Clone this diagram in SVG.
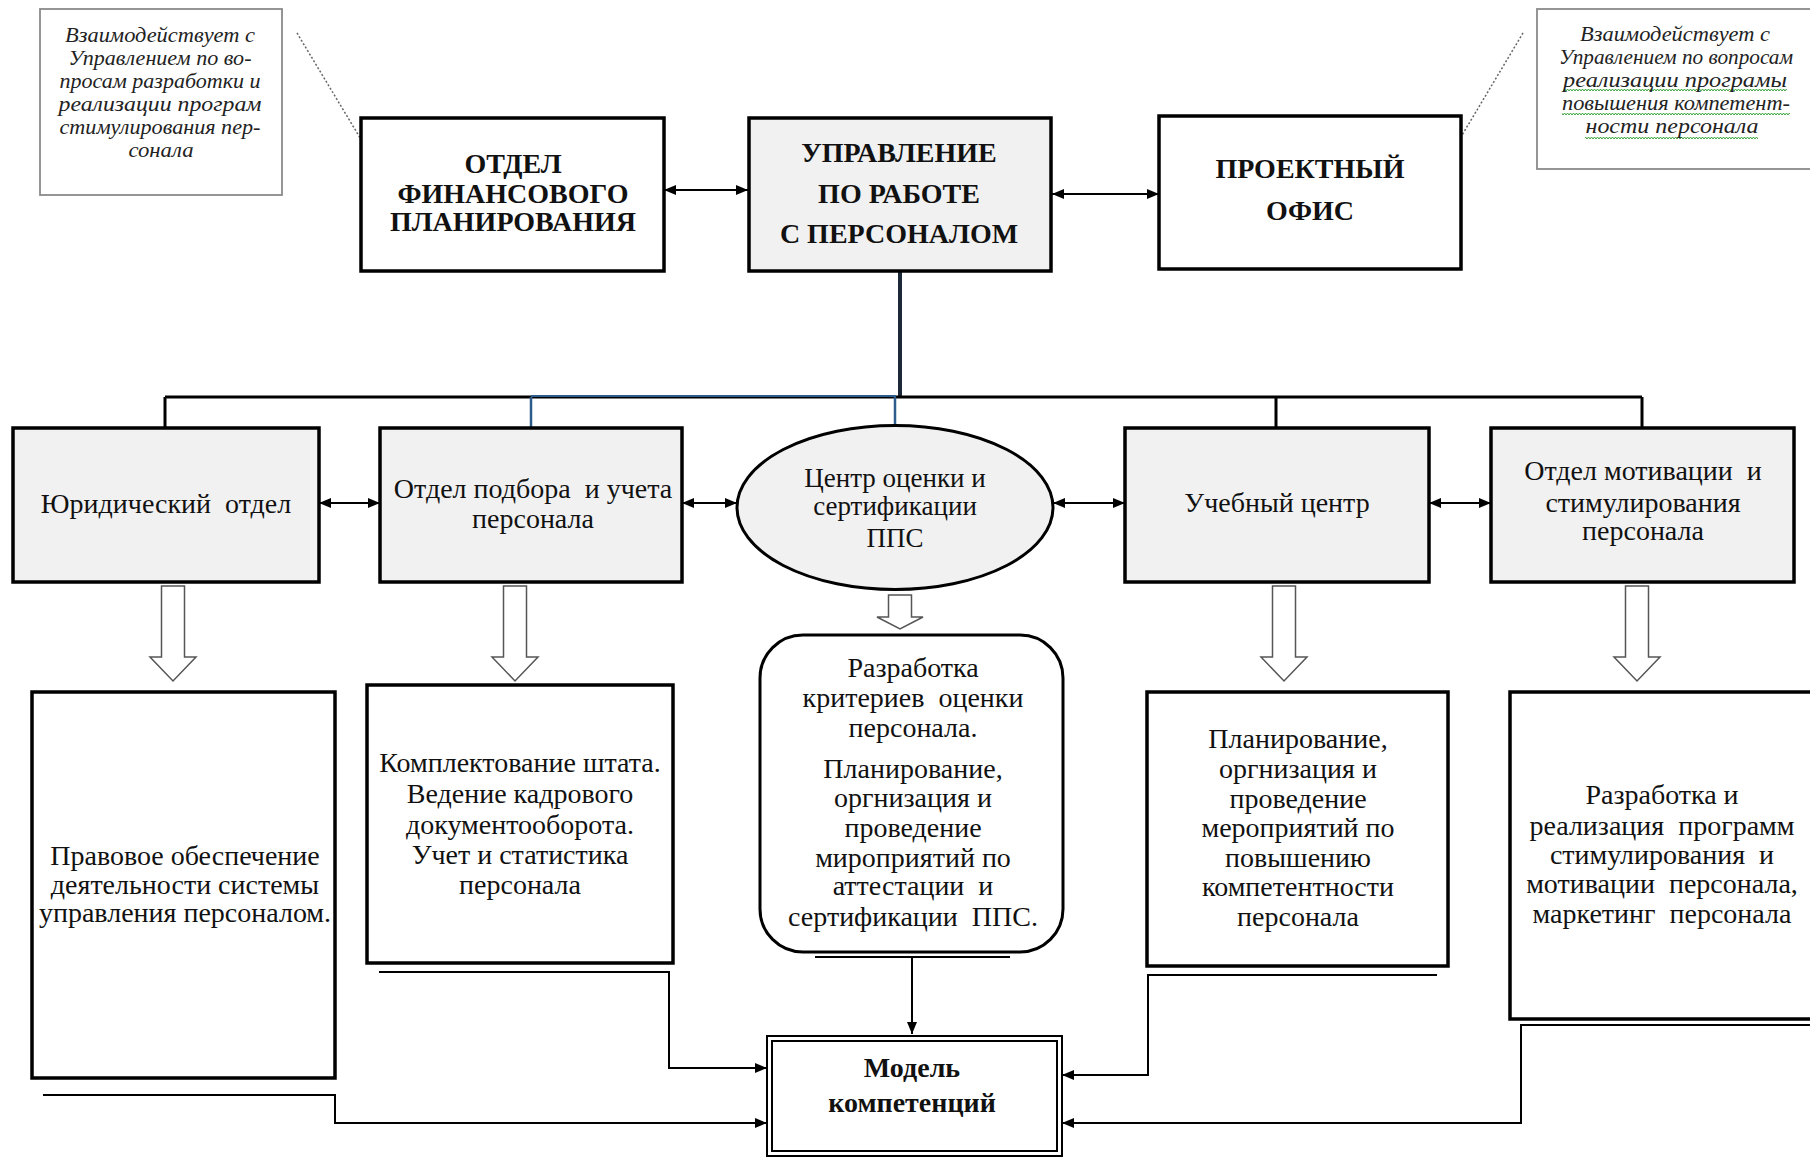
<svg xmlns="http://www.w3.org/2000/svg" width="1810" height="1157" viewBox="0 0 1810 1157">
<style>
  .t{font-family:"Liberation Serif","Times New Roman",serif;font-size:28px;fill:#111;text-anchor:middle}
  .b{font-weight:bold}
  .n{font-family:"Liberation Serif","Times New Roman",serif;font-style:italic;font-size:21px;fill:#222;text-anchor:middle}
  .box{stroke:#000;stroke-width:3.5;fill:#fff}
  .gray{fill:#f1f1f1}
  .note{stroke:#8a8a8a;stroke-width:1.8;fill:#fff}
  .ln{stroke:#000;stroke-width:2;fill:none}
  .blk{stroke:#555;stroke-width:1.5;fill:#fff}
  .dot{stroke:#666;stroke-width:1.5;stroke-dasharray:2 2;fill:none}
</style>
<defs>
  <marker id="ah" viewBox="0 0 12 10" refX="12" refY="5" markerWidth="12" markerHeight="10" markerUnits="userSpaceOnUse" orient="auto-start-reverse">
    <path d="M0,0 L12,5 L0,10 z" fill="#000"/>
  </marker>
  <pattern id="wave" width="6" height="4" patternUnits="userSpaceOnUse">
    <path d="M0,3 L1.5,1 L3,3 L4.5,1 L6,3" stroke="#3aa33a" stroke-width="1" fill="none"/>
  </pattern>
</defs>
<rect width="1810" height="1157" fill="#fff"/>

<g id="connectors">
  <path class="dot" d="M297 33 L371 156"/>
  <path class="dot" d="M1523 33 L1440 172"/>
  <path class="ln" d="M664 190 H748" marker-start="url(#ah)" marker-end="url(#ah)"/>
  <path class="ln" d="M1052 194 H1159" marker-start="url(#ah)" marker-end="url(#ah)"/>
  <path d="M900 272 V398" stroke="#1b2838" stroke-width="4" fill="none"/>
  <path d="M165 397 H1642" stroke="#000" stroke-width="3" fill="none"/>
  <path d="M531 396 H896" stroke="#2e5c8a" stroke-width="2" fill="none"/>
  <path d="M165 397 V428 M1276 397 V428 M1642 397 V428" stroke="#000" stroke-width="3" fill="none"/>
  <path d="M531 397 V428 M895 397 V425" stroke="#2e5c8a" stroke-width="2.5" fill="none"/>
  <path class="ln" d="M319 503 H380" marker-start="url(#ah)" marker-end="url(#ah)"/>
  <path class="ln" d="M682 503 H737" marker-start="url(#ah)" marker-end="url(#ah)"/>
  <path class="ln" d="M1053 503 H1125" marker-start="url(#ah)" marker-end="url(#ah)"/>
  <path class="ln" d="M1429 503 H1491" marker-start="url(#ah)" marker-end="url(#ah)"/>
  <polygon class="blk" points="161.5,586 184.5,586 184.5,657 196,657 173,681 150,657 161.5,657"/>
  <polygon class="blk" points="503.5,586 526.5,586 526.5,657 538,657 515,681 492,657 503.5,657"/>
  <polygon class="blk" points="888.5,595 911.5,595 911.5,617 923,617 900,629 877,617 888.5,617"/>
  <polygon class="blk" points="1272.5,586 1295.5,586 1295.5,657 1307,657 1284,681 1261,657 1272.5,657"/>
  <polygon class="blk" points="1625.5,586 1648.5,586 1648.5,657 1660,657 1637,681 1614,657 1625.5,657"/>
  <path class="ln" d="M43 1095 H335 V1123 H767" stroke-width="2.5" marker-end="url(#ah)"/>
  <path class="ln" d="M379 972 H669 V1068 H767" stroke-width="2.5" marker-end="url(#ah)"/>
  <path class="ln" d="M815 957 H1010" stroke-width="2.5"/>
  <path class="ln" d="M912 957 V1034" marker-end="url(#ah)"/>
  <path class="ln" d="M1437 975 H1148 V1075 H1062" stroke-width="2.5" marker-end="url(#ah)"/>
  <path class="ln" d="M1812 1025 H1521 V1123 H1062" stroke-width="2.5" marker-end="url(#ah)"/>
</g>

<g id="note-left">
  <rect class="note" x="40" y="9" width="242" height="186"/>
  <text class="n" x="160" y="42" textLength="190" lengthAdjust="spacingAndGlyphs">Взаимодействует с</text>
  <text class="n" x="160" y="65" textLength="183" lengthAdjust="spacingAndGlyphs">Управлением по во-</text>
  <text class="n" x="160" y="88" textLength="201" lengthAdjust="spacingAndGlyphs">просам разработки и</text>
  <text class="n" x="160" y="111" textLength="203" lengthAdjust="spacingAndGlyphs">реализации програм</text>
  <text class="n" x="160" y="134" textLength="201" lengthAdjust="spacingAndGlyphs">стимулирования пер-</text>
  <text class="n" x="161" y="157" textLength="65" lengthAdjust="spacingAndGlyphs">сонала</text>
</g>

<g id="note-right">
  <rect class="note" x="1537" y="9" width="290" height="160"/>
  <rect x="1563" y="89" width="224" height="4" fill="url(#wave)"/>
  <rect x="1562" y="112" width="228" height="4" fill="url(#wave)"/>
  <rect x="1585" y="135" width="173" height="4" fill="url(#wave)"/>
  <text class="n" x="1675" y="41" textLength="190" lengthAdjust="spacingAndGlyphs">Взаимодействует с</text>
  <text class="n" x="1676" y="64" textLength="234" lengthAdjust="spacingAndGlyphs">Управлением по вопросам</text>
  <text class="n" x="1675" y="87" textLength="224" lengthAdjust="spacingAndGlyphs">реализации програмы</text>
  <text class="n" x="1676" y="110" textLength="228" lengthAdjust="spacingAndGlyphs">повышения компетент-</text>
  <text class="n" x="1672" y="133" textLength="173" lengthAdjust="spacingAndGlyphs">ности персонала</text>
</g>

<g id="fin-planning">
  <rect class="box" x="361" y="118" width="303" height="153" stroke-width="4"/>
  <text class="t b" x="513" y="173">ОТДЕЛ</text>
  <text class="t b" x="513" y="203">ФИНАНСОВОГО</text>
  <text class="t b" x="513" y="231">ПЛАНИРОВАНИЯ</text>
</g>

<g id="hr-management">
  <rect class="box gray" x="749" y="118" width="302" height="153" stroke-width="4"/>
  <text class="t b" x="899" y="162">УПРАВЛЕНИЕ</text>
  <text class="t b" x="899" y="203">ПО РАБОТЕ</text>
  <text class="t b" x="899" y="243">С ПЕРСОНАЛОМ</text>
</g>

<g id="project-office">
  <rect class="box" x="1159" y="116" width="302" height="153" stroke-width="4"/>
  <text class="t b" x="1310" y="178">ПРОЕКТНЫЙ</text>
  <text class="t b" x="1310" y="220">ОФИС</text>
</g>

<g id="legal">
  <rect class="box gray" x="13" y="428" width="306" height="154"/>
  <text class="t" x="166" y="513" xml:space="preserve">Юридический  отдел</text>
</g>

<g id="recruitment">
  <rect class="box gray" x="380" y="428" width="302" height="154"/>
  <text class="t" x="533" y="498" xml:space="preserve">Отдел подбора  и учета</text>
  <text class="t" x="533" y="528">персонала</text>
</g>

<g id="assessment-center">
  <ellipse cx="895" cy="507.5" rx="158" ry="82" stroke="#000" stroke-width="3" fill="#f1f1f1"/>
  <text class="t" x="895" y="487" style="font-size:27px">Центр оценки и</text>
  <text class="t" x="895" y="515" style="font-size:27px">сертификации</text>
  <text class="t" x="895" y="547" style="font-size:27px">ППС</text>
</g>

<g id="training-center">
  <rect class="box gray" x="1125" y="428" width="304" height="154"/>
  <text class="t" x="1277" y="512">Учебный центр</text>
</g>

<g id="motivation">
  <rect class="box gray" x="1491" y="428" width="303" height="154"/>
  <text class="t" x="1643" y="480" xml:space="preserve">Отдел мотивации  и</text>
  <text class="t" x="1643" y="512">стимулирования</text>
  <text class="t" x="1643" y="540">персонала</text>
</g>

<g id="legal-task">
  <rect class="box" x="32" y="692" width="303" height="386"/>
  <text class="t" x="185" y="865">Правовое обеспечение</text>
  <text class="t" x="185" y="894">деятельности системы</text>
  <text class="t" x="185" y="922">управления персоналом.</text>
</g>

<g id="recruitment-task">
  <rect class="box" x="367" y="685" width="306" height="278"/>
  <text class="t" x="520" y="772">Комплектование штата.</text>
  <text class="t" x="520" y="803">Ведение кадрового</text>
  <text class="t" x="520" y="834">документооборота.</text>
  <text class="t" x="520" y="864">Учет и статистика</text>
  <text class="t" x="520" y="894">персонала</text>
</g>

<g id="assessment-task">
  <rect x="760" y="635" width="303" height="317" rx="43" stroke="#000" stroke-width="3" fill="#fff"/>
  <text class="t" x="913" y="677">Разработка</text>
  <text class="t" x="913" y="707" xml:space="preserve">критериев  оценки</text>
  <text class="t" x="913" y="737">персонала.</text>
  <text class="t" x="913" y="778">Планирование,</text>
  <text class="t" x="913" y="807">оргнизация и</text>
  <text class="t" x="913" y="837">проведение</text>
  <text class="t" x="913" y="867">мироприятий по</text>
  <text class="t" x="913" y="895" xml:space="preserve">аттестации  и</text>
  <text class="t" x="913" y="926" xml:space="preserve">сертификации  ППС.</text>
</g>

<g id="training-task">
  <rect class="box" x="1147" y="692" width="301" height="274"/>
  <text class="t" x="1298" y="748">Планирование,</text>
  <text class="t" x="1298" y="778">оргнизация и</text>
  <text class="t" x="1298" y="808">проведение</text>
  <text class="t" x="1298" y="837">мероприятий по</text>
  <text class="t" x="1298" y="867">повышению</text>
  <text class="t" x="1298" y="896">компетентности</text>
  <text class="t" x="1298" y="926">персонала</text>
</g>

<g id="motivation-task">
  <rect class="box" x="1510" y="692" width="310" height="327"/>
  <text class="t" x="1662" y="804">Разработка и</text>
  <text class="t" x="1662" y="835" xml:space="preserve">реализация  программ</text>
  <text class="t" x="1662" y="864" xml:space="preserve">стимулирования  и</text>
  <text class="t" x="1662" y="893" xml:space="preserve">мотивации  персонала,</text>
  <text class="t" x="1662" y="923" xml:space="preserve">маркетинг  персонала</text>
</g>

<g id="competency-model">
  <rect x="767" y="1036" width="295" height="120" stroke="#000" stroke-width="2" fill="#fff"/>
  <rect x="772" y="1041" width="285" height="110" stroke="#000" stroke-width="2" fill="none"/>
  <text class="t b" x="912" y="1077">Модель</text>
  <text class="t b" x="912" y="1112">компетенций</text>
</g>
</svg>
